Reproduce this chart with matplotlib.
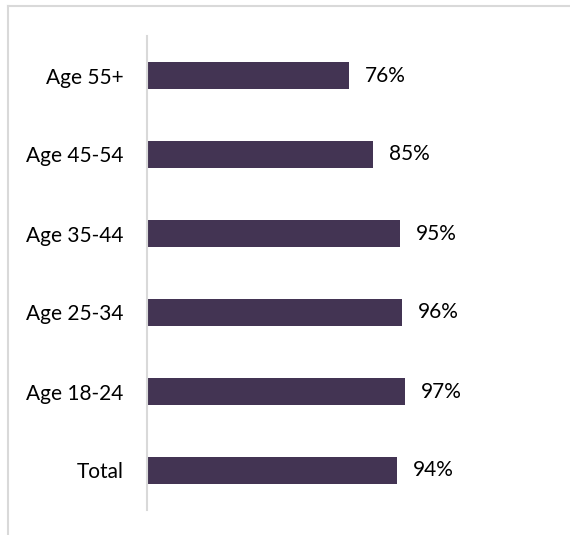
import matplotlib.pyplot as plt
from matplotlib.lines import Line2D

categories = ["Total", "Age 18-24", "Age 25-34", "Age 35-44", "Age 45-54", "Age 55+"]
values = [94, 97, 96, 95, 85, 76]
labels = ["94%", "97%", "96%", "95%", "85%", "76%"]

W, H = 570, 535
fig = plt.figure(figsize=(W / 100, H / 100), dpi=100)
plt.rcParams["font.family"] = ["Lato", "DejaVu Sans"]

# outer frame (only top and left visible)
border = "#d9d9d9"
fig.add_artist(Line2D([7.5 / W, 1.01], [1 - 5.5 / H, 1 - 5.5 / H], color=border, lw=1.5))
fig.add_artist(Line2D([7.5 / W, 7.5 / W], [-0.01, 1 - 5.5 / H], color=border, lw=1.5))

ax = fig.add_axes([147 / W, 1 - 510 / H, (560 - 147) / W, (510 - 36) / H])
ax.barh(range(len(categories)), values, height=0.33, color="#433453")
ax.set_xlim(0, (560 - 147) / 2.66)
ax.set_ylim(-0.5, len(categories) - 0.5)

ax.set_yticks(range(len(categories)))
ax.set_yticklabels(categories, fontsize=15)
ax.tick_params(axis="y", length=0, pad=17)
ax.set_xticks([])
for s in ["top", "right", "bottom"]:
    ax.spines[s].set_visible(False)
ax.spines["left"].set_color("#d9d9d9")
ax.spines["left"].set_linewidth(1.5)

for i, (v, lab) in enumerate(zip(values, labels)):
    ax.annotate(lab, (v, i), xytext=(16, 0), textcoords="offset pixels",
                va="center", ha="left", fontsize=15)

fig.savefig("out.png", dpi=100)
